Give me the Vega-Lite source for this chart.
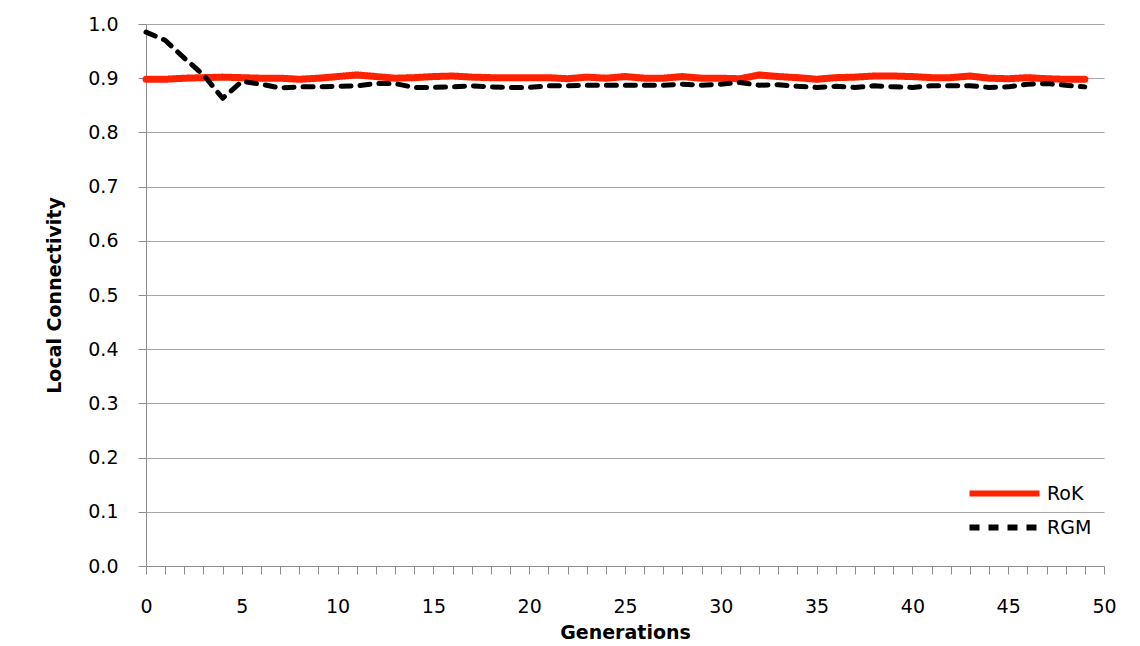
{
  "$schema": "https://vega.github.io/schema/vega-lite/v6.json",
  "width": 958,
  "height": 542,
  "autosize": {"type": "none"},
  "padding": {"left": 146, "top": 24, "right": 36, "bottom": 80},
  "background": "white",
  "config": {
    "view": {"stroke": null},
    "font": "DejaVu Sans"
  },
  "data": {
    "values": [
      {"g": 0, "series": "RoK", "v": 0.898}, {"g": 1, "series": "RoK", "v": 0.898}, {"g": 2, "series": "RoK", "v": 0.9}, {"g": 3, "series": "RoK", "v": 0.901}, {"g": 4, "series": "RoK", "v": 0.902},
      {"g": 5, "series": "RoK", "v": 0.901}, {"g": 6, "series": "RoK", "v": 0.9}, {"g": 7, "series": "RoK", "v": 0.9}, {"g": 8, "series": "RoK", "v": 0.898}, {"g": 9, "series": "RoK", "v": 0.9},
      {"g": 10, "series": "RoK", "v": 0.903}, {"g": 11, "series": "RoK", "v": 0.906}, {"g": 12, "series": "RoK", "v": 0.903}, {"g": 13, "series": "RoK", "v": 0.9}, {"g": 14, "series": "RoK", "v": 0.901},
      {"g": 15, "series": "RoK", "v": 0.903}, {"g": 16, "series": "RoK", "v": 0.904}, {"g": 17, "series": "RoK", "v": 0.902}, {"g": 18, "series": "RoK", "v": 0.901}, {"g": 19, "series": "RoK", "v": 0.901},
      {"g": 20, "series": "RoK", "v": 0.901}, {"g": 21, "series": "RoK", "v": 0.901}, {"g": 22, "series": "RoK", "v": 0.899}, {"g": 23, "series": "RoK", "v": 0.902}, {"g": 24, "series": "RoK", "v": 0.9},
      {"g": 25, "series": "RoK", "v": 0.903}, {"g": 26, "series": "RoK", "v": 0.9}, {"g": 27, "series": "RoK", "v": 0.9}, {"g": 28, "series": "RoK", "v": 0.903}, {"g": 29, "series": "RoK", "v": 0.9},
      {"g": 30, "series": "RoK", "v": 0.9}, {"g": 31, "series": "RoK", "v": 0.899}, {"g": 32, "series": "RoK", "v": 0.906}, {"g": 33, "series": "RoK", "v": 0.903}, {"g": 34, "series": "RoK", "v": 0.901},
      {"g": 35, "series": "RoK", "v": 0.898}, {"g": 36, "series": "RoK", "v": 0.901}, {"g": 37, "series": "RoK", "v": 0.902}, {"g": 38, "series": "RoK", "v": 0.904}, {"g": 39, "series": "RoK", "v": 0.904},
      {"g": 40, "series": "RoK", "v": 0.903}, {"g": 41, "series": "RoK", "v": 0.901}, {"g": 42, "series": "RoK", "v": 0.901}, {"g": 43, "series": "RoK", "v": 0.904}, {"g": 44, "series": "RoK", "v": 0.9},
      {"g": 45, "series": "RoK", "v": 0.899}, {"g": 46, "series": "RoK", "v": 0.901}, {"g": 47, "series": "RoK", "v": 0.899}, {"g": 48, "series": "RoK", "v": 0.898}, {"g": 49, "series": "RoK", "v": 0.898},
      {"g": 0, "series": "RGM", "v": 0.985}, {"g": 1, "series": "RGM", "v": 0.97}, {"g": 2, "series": "RGM", "v": 0.937}, {"g": 3, "series": "RGM", "v": 0.906}, {"g": 4, "series": "RGM", "v": 0.863},
      {"g": 5, "series": "RGM", "v": 0.894}, {"g": 6, "series": "RGM", "v": 0.889}, {"g": 7, "series": "RGM", "v": 0.882}, {"g": 8, "series": "RGM", "v": 0.884}, {"g": 9, "series": "RGM", "v": 0.884},
      {"g": 10, "series": "RGM", "v": 0.885}, {"g": 11, "series": "RGM", "v": 0.886}, {"g": 12, "series": "RGM", "v": 0.89}, {"g": 13, "series": "RGM", "v": 0.89}, {"g": 14, "series": "RGM", "v": 0.883},
      {"g": 15, "series": "RGM", "v": 0.883}, {"g": 16, "series": "RGM", "v": 0.884}, {"g": 17, "series": "RGM", "v": 0.886}, {"g": 18, "series": "RGM", "v": 0.884}, {"g": 19, "series": "RGM", "v": 0.883},
      {"g": 20, "series": "RGM", "v": 0.883}, {"g": 21, "series": "RGM", "v": 0.886}, {"g": 22, "series": "RGM", "v": 0.886}, {"g": 23, "series": "RGM", "v": 0.887}, {"g": 24, "series": "RGM", "v": 0.887},
      {"g": 25, "series": "RGM", "v": 0.887}, {"g": 26, "series": "RGM", "v": 0.887}, {"g": 27, "series": "RGM", "v": 0.887}, {"g": 28, "series": "RGM", "v": 0.889}, {"g": 29, "series": "RGM", "v": 0.887},
      {"g": 30, "series": "RGM", "v": 0.889}, {"g": 31, "series": "RGM", "v": 0.892}, {"g": 32, "series": "RGM", "v": 0.887}, {"g": 33, "series": "RGM", "v": 0.888}, {"g": 34, "series": "RGM", "v": 0.885},
      {"g": 35, "series": "RGM", "v": 0.883}, {"g": 36, "series": "RGM", "v": 0.885}, {"g": 37, "series": "RGM", "v": 0.883}, {"g": 38, "series": "RGM", "v": 0.886}, {"g": 39, "series": "RGM", "v": 0.884},
      {"g": 40, "series": "RGM", "v": 0.883}, {"g": 41, "series": "RGM", "v": 0.886}, {"g": 42, "series": "RGM", "v": 0.886}, {"g": 43, "series": "RGM", "v": 0.886}, {"g": 44, "series": "RGM", "v": 0.883},
      {"g": 45, "series": "RGM", "v": 0.884}, {"g": 46, "series": "RGM", "v": 0.889}, {"g": 47, "series": "RGM", "v": 0.89}, {"g": 48, "series": "RGM", "v": 0.887}, {"g": 49, "series": "RGM", "v": 0.884}
    ]
  },
  "mark": {"type": "line", "strokeCap": "round", "strokeJoin": "round"},
  "encoding": {
    "x": {
      "field": "g", "type": "quantitative",
      "scale": {"domain": [0, 50], "nice": false, "zero": false},
      "axis": {
        "title": "Generations",
        "values": [0,1,2,3,4,5,6,7,8,9,10,11,12,13,14,15,16,17,18,19,20,21,22,23,24,25,26,27,28,29,30,31,32,33,34,35,36,37,38,39,40,41,42,43,44,45,46,47,48,49,50],
        "labelExpr": "datum.value % 5 === 0 ? datum.label : ''",
        "grid": false,
        "domainColor": "#8c8c8c",
        "tickColor": "#8c8c8c",
        "tickSize": 8,
        "labelFont": "DejaVu Sans",
        "labelFontSize": 19,
        "labelColor": "#000000",
        "labelPadding": 23,
        "labelOverlap": false,
        "labelFlush": false,
        "titleFont": "DejaVu Sans",
        "titleFontSize": 19,
        "titleFontWeight": "bold",
        "titleColor": "#000000",
        "titlePadding": 7
      }
    },
    "y": {
      "field": "v", "type": "quantitative",
      "scale": {"domain": [0, 1], "nice": false},
      "axis": {
        "title": "Local Connectivity",
        "values": [0, 0.1, 0.2, 0.3, 0.4, 0.5, 0.6, 0.7, 0.8, 0.9, 1.0],
        "format": ".1f",
        "grid": true,
        "gridColor": "#a6a6a6",
        "domainColor": "#8c8c8c",
        "tickColor": "#8c8c8c",
        "tickSize": 8,
        "labelFont": "DejaVu Sans",
        "labelFontSize": 19,
        "labelColor": "#000000",
        "labelPadding": 20,
        "titleFont": "DejaVu Sans",
        "titleFontSize": 19,
        "titleFontWeight": "bold",
        "titleColor": "#000000",
        "titlePadding": 23
      }
    },
    "color": {
      "field": "series", "type": "nominal",
      "scale": {"domain": ["RoK", "RGM"], "range": ["#ff2200", "#000000"]},
      "legend": {
        "title": null,
        "orient": "none",
        "legendX": 814,
        "legendY": 460,
        "padding": 0,
        "symbolType": "M0,0H14",
        "symbolSize": 100,
        "symbolStrokeWidth": 6,
        "labelFont": "DejaVu Sans",
        "labelFontSize": 19,
        "labelColor": "#000000",
        "labelOffset": 68,
        "rowPadding": 9
      }
    },
    "strokeDash": {
      "field": "series", "type": "nominal",
      "scale": {"domain": ["RoK", "RGM"], "range": [[1, 0], [10, 9]]},
      "legend": {
        "title": null,
        "orient": "none",
        "legendX": 814,
        "legendY": 460,
        "padding": 0,
        "symbolType": "M0,0H14",
        "symbolSize": 100,
        "symbolStrokeWidth": 6,
        "labelFont": "DejaVu Sans",
        "labelFontSize": 19,
        "labelColor": "#000000",
        "labelOffset": 68,
        "rowPadding": 9
      }
    },
    "strokeWidth": {
      "condition": {"test": "datum.series === 'RoK'", "value": 7},
      "value": 5
    }
  }
}
